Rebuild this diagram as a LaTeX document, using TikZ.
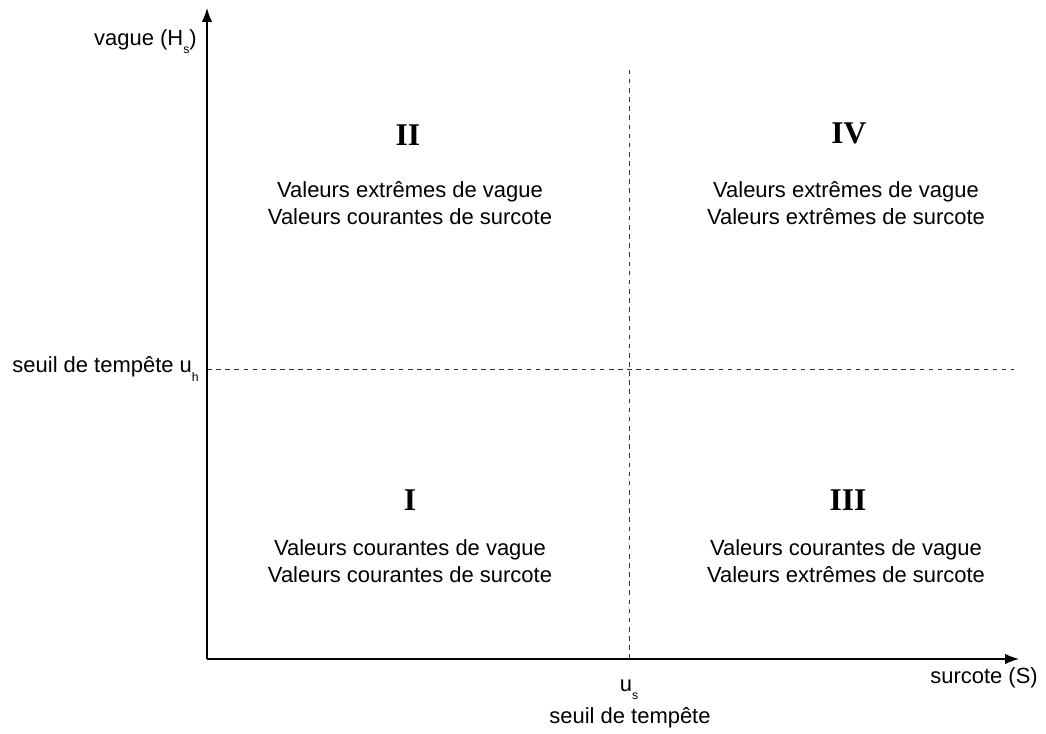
\documentclass[tikz,border=0pt]{standalone}
\usepackage{fontspec}
\setmainfont{Liberation Sans}
\newfontfamily\romfont{Liberation Serif}
\usetikzlibrary{arrows.meta}
\newcommand\bas[1]{\raisebox{-0.7ex}{\fontsize{7}{8}\selectfont #1}}
\begin{document}
\begin{tikzpicture}[x=0.02cm,y=-0.02cm,font=\fontsize{12.5}{15}\selectfont,
  axe/.style={line width=0.8pt,-{Latex[length=2.8mm,width=2.1mm]}},
  seuil/.style={line width=0.5pt,black!80,dash pattern=on 2.6pt off 2.6pt},
  zone/.style={font=\romfont\bfseries\fontsize{18}{20}\selectfont},
  texte/.style={align=center,font=\fontsize{12.5}{15.5}\selectfont}]
  \useasboundingbox (0,0) rectangle (1046,734);
  \coordinate (O) at (207,659);
  \coordinate (ytop) at (207,8);
  \coordinate (xend) at (1019,659);
  \coordinate (ustop) at (629,68);
  \coordinate (us) at (629,659);
  \coordinate (uh) at (207,369);
  \coordinate (uhend) at (1014,369);
  % seuils
  \draw[seuil] (us) -- (ustop);
  \draw[seuil] (uh) -- (uhend);
  % axes
  \draw[axe] (O) -- (ytop);
  \draw[axe] (O) -- (xend);
  \node[anchor=east] (lbly) at (203,42) {vague (H\bas{s})};
  \node[anchor=east] (lbluh) at (205,369) {seuil de tempête u\bas{h}};
  \node[anchor=east] (lblx) at (1044,678) {surcote (S)};
  \node (lblus) at (629,690) {u\bas{s}};
  \node (lbltemp) at (630,718) {seuil de tempête};
  % quadrants
  \node[zone] (zII) at (408,135) {II};
  \node[texte] (tII) at (410,203) {Valeurs extrêmes de vague\\Valeurs courantes de surcote};
  \node[zone] (zIV) at (849,133) {IV};
  \node[texte] (tIV) at (846,203) {Valeurs extrêmes de vague\\Valeurs extrêmes de surcote};
  \node[zone] (zI) at (410,500) {I};
  \node[texte] (tI) at (410,561) {Valeurs courantes de vague\\Valeurs courantes de surcote};
  \node[zone] (zIII) at (848,500) {III};
  \node[texte] (tIII) at (846,561) {Valeurs courantes de vague\\Valeurs extrêmes de surcote};
\end{tikzpicture}
\end{document}
